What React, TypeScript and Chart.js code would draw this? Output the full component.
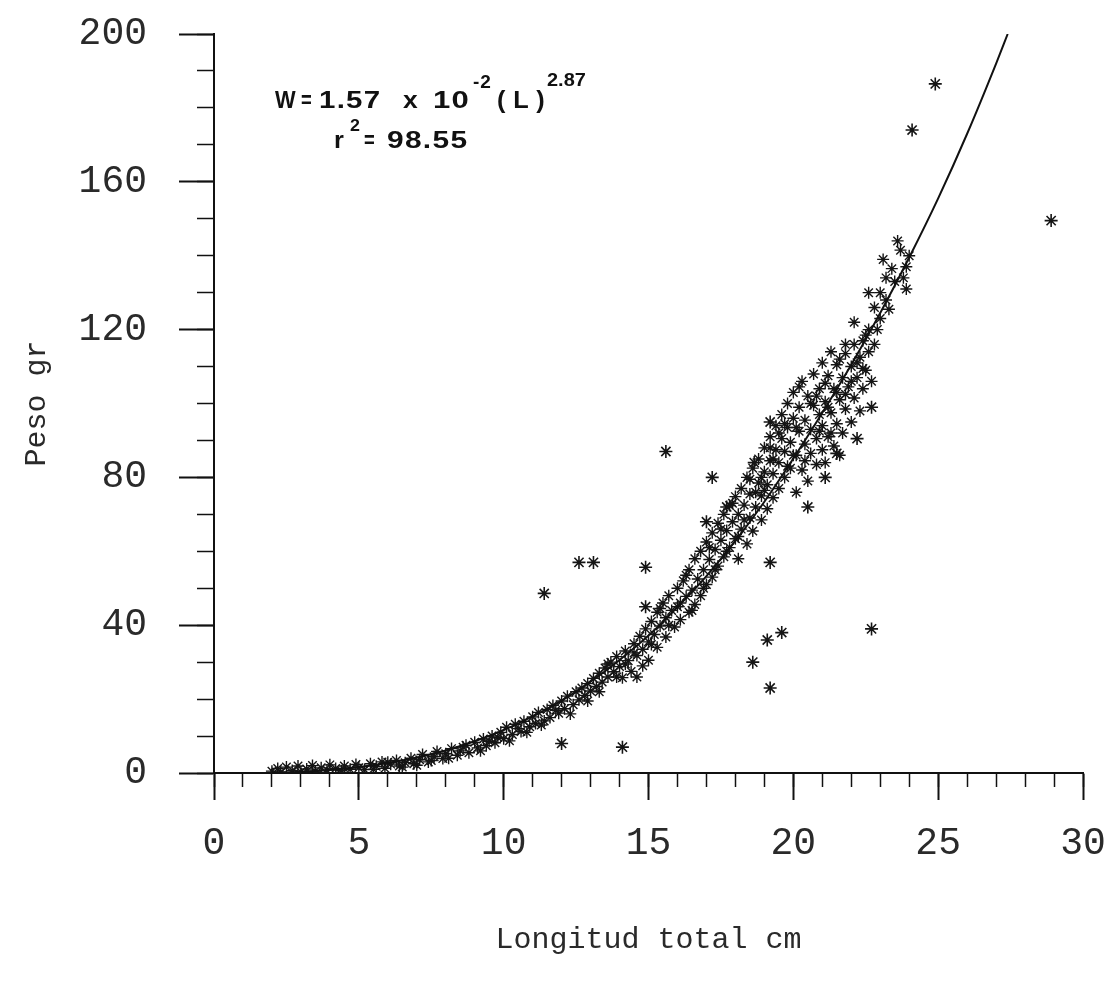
import React, { useEffect, useRef } from 'react';
import { Chart, registerables } from 'chart.js';

Chart.register(...registerables);

// ---- tick labels ----
const xMajorTicks = [0, 5, 10, 15, 20, 25, 30];
const yMajorTicks = [0, 40, 80, 120, 160, 200];

// ---- fitted curve (W = 1.57e-2 L^2.87) ----
const curveLength = [2, 3, 4, 5, 6, 7, 8, 9, 10, 11, 12, 13, 14, 15, 16, 17, 18, 19, 20, 21, 22, 23, 24, 25, 26, 27, 27.4];
const curveWeight = [0.12, 0.37, 0.84, 1.6, 2.7, 4.2, 6.1, 8.6, 11.6, 15.3, 19.6, 24.7, 30.6, 37.2, 44.9, 53.3, 62.8, 73.4, 85.1, 97.5, 110.5, 124.5, 139.5, 155.5, 173, 192, 200];

// ---- main band of observations (length cm, weight g) ----
const bandLength = [
  2.0, 2.2, 2.3, 2.5, 2.7, 2.9, 3.0, 3.2, 3.4, 3.5, 3.7, 3.9, 4.0, 4.2, 4.4, 4.5, 4.7, 4.9, 5.0, 5.2, 5.4,
  5.6, 5.8, 5.9, 6.1, 6.3, 6.4, 6.6, 6.8, 6.9, 7.1, 7.2, 7.4, 7.6, 7.7, 7.9, 8.0, 8.2, 8.4,
  8.5, 8.7, 8.8, 9.0, 9.1, 9.3, 9.4, 9.6, 9.7, 9.9, 10.0, 10.1, 10.3, 10.4, 10.6, 10.7,
  10.9, 11.0, 11.1, 11.2, 11.4, 11.5, 11.6, 11.7, 11.9, 12.0, 12.1, 12.2, 12.4, 12.5, 12.6, 12.7,
  12.8, 12.9, 13.0, 13.1, 13.2, 13.3, 13.4, 13.5, 13.6, 13.7, 13.8, 13.9, 14.0, 14.1, 14.2, 14.3, 14.4,
  14.5, 14.6, 14.6, 14.7, 14.8, 14.9, 15.0, 15.0, 15.1, 15.2, 15.3, 15.3, 15.4, 15.5, 15.6, 15.6, 15.7, 15.8, 15.9, 16.0, 16.1, 16.1,
  16.2, 16.3, 16.4, 16.4, 16.5, 16.6, 16.6, 16.7, 16.8, 16.8, 16.9, 17.0, 17.0, 17.1, 17.2, 17.2, 17.3, 17.4, 17.4, 17.5, 17.6, 17.6, 17.7, 17.8, 17.8, 17.9, 18.0, 18.0,
  18.1, 18.1, 18.2, 18.2, 18.3, 18.4, 18.4, 18.5, 18.5, 18.6, 18.6, 18.7, 18.8, 18.8, 18.9, 18.9, 19.0, 19.0, 19.1, 19.1, 19.2, 19.2, 19.3, 19.3, 19.4, 19.4, 19.5, 19.5, 19.6, 19.6, 19.7, 19.7, 19.8, 19.8, 19.9, 19.9, 20.0, 20.0,
  20.1, 20.1, 20.2, 20.2, 20.3, 20.3, 20.4, 20.4, 20.5, 20.5, 20.6, 20.6, 20.7, 20.7, 20.8, 20.8, 20.9, 20.9, 21.0, 21.0, 21.0, 21.1, 21.1, 21.2, 21.2, 21.3, 21.3, 21.4, 21.4, 21.5, 21.5, 21.6, 21.6, 21.7, 21.7, 21.8, 21.8, 21.9, 22.0, 22.0, 22.1, 22.1, 22.2, 22.3, 22.3, 22.4, 22.5, 22.5, 22.6, 22.7,
  21.8, 22.1, 22.4, 22.6, 22.8, 23.0, 23.1, 23.4, 23.6, 23.9, 23.9, 23.2, 23.5, 24.0, 23.7, 22.9, 23.3, 23.8,
];
const bandWeight = [
  0.5, 1.2, 0.2, 1.6, 0.7, 1.9, 0.3, 1.1, 2.0, 0.5, 1.4, 0.8, 2.2, 1.2, 0.6, 1.9, 1.0, 2.3, 1.4, 0.9, 2.5,
  1.8, 3.0, 1.3, 2.4, 3.4, 1.9, 2.8, 4.0, 2.5, 3.6, 5.0, 3.0, 4.4, 5.8, 3.9, 5.2, 6.6, 4.8,
  6.0, 7.5, 5.5, 8.3, 6.8, 9.2, 7.4, 10.0, 8.2, 11.0, 9.3, 12.4, 10.4, 13.2, 11.2, 14.0,
  12.5, 15.2, 13.4, 16.4, 14.1, 17.2, 15.0, 18.3, 16.2, 19.5, 17.4, 20.8, 18.5, 22.0, 19.8, 23.0,
  21.0, 24.2, 22.2, 25.6, 23.4, 27.0, 24.6, 28.4, 26.0, 30.0, 27.4, 31.5, 28.8, 25.8, 33.0, 30.4, 27.5,
  35.0, 31.8, 26.0, 37.0, 33.5, 39.0, 35.5, 30.5, 41.0, 37.5, 43.5, 34.0, 39.8, 46.0, 42.0, 36.8, 48.0, 44.0, 39.5, 50.0, 46.0, 41.5,
  52.0, 47.8, 43.5, 55.0, 49.5, 58.0, 45.6, 52.5, 60.0, 48.0, 55.0, 62.5, 51.0, 57.8, 65.0, 53.0, 60.5, 67.6, 56.0, 63.0, 70.0, 58.5, 65.6, 72.4, 61.0, 68.0, 74.8, 63.4,
  70.0, 58.0, 77.0, 66.0, 72.5, 80.0, 62.0, 69.0, 75.5, 82.5, 65.5, 72.0, 78.5, 85.0, 68.5, 75.0, 81.5, 88.0, 71.5, 78.0, 84.5, 91.0, 74.5, 81.0, 87.5, 94.0, 77.0, 84.0, 90.5, 97.0, 80.0, 87.0, 93.5, 100.0, 82.5, 89.5, 96.0, 103.0,
  76.0, 86.0, 92.5, 99.0, 106.0, 82.0, 89.0, 95.5, 102.0, 79.0, 86.5, 93.0, 99.5, 108.0, 83.5, 90.5, 97.0, 104.0, 87.5, 94.0, 111.0, 100.5, 84.0, 91.0, 107.5, 97.5, 114.0, 88.5, 104.0, 94.5, 110.5, 101.0, 86.0, 107.0, 92.0, 113.5, 98.5, 104.5, 95.0, 110.0, 101.5, 116.0, 107.0, 98.0, 112.5, 104.0, 118.5, 109.0, 114.0, 106.0,
  116, 122, 117, 130, 126, 123, 139, 136.5, 144, 137, 131, 128, 133, 140, 141.5, 120, 125.5, 134,
];

// ---- further observations filling the band ----
const fillLength = [
  5.5, 6.0, 6.5, 7.0, 7.5, 8.1, 8.6, 9.2, 9.5, 9.8, 10.2, 10.5, 10.8, 11.3, 11.8, 12.3, 12.9, 13.3, 13.6, 13.9,
  14.2, 14.5, 14.8, 15.1, 15.4, 15.7, 16.0, 16.3, 16.5, 16.9, 17.1, 17.3, 17.5, 17.7, 17.9, 18.1, 18.3, 18.5, 18.7, 18.9,
  19.0, 19.2, 19.3, 19.5, 19.7, 19.8, 20.0, 20.1, 20.2, 20.4, 20.6, 20.8, 20.9, 21.1, 21.2, 21.3, 21.5, 21.6, 21.8, 22.0,
  22.2, 22.4, 22.6, 22.8, 23.0, 23.2,
];
const fillWeight = [
  1.0, 2.9, 1.6, 2.1, 3.4, 4.0, 7.0, 6.0, 8.6, 9.6, 8.7, 12.0, 11.0, 13.0, 17.0, 16.0, 19.5, 22.0, 29.5, 26.0,
  29.5, 32.5, 29.0, 34.8, 44.5, 40.0, 45.0, 53.5, 44.0, 50.0, 61.0, 55.0, 66.0, 60.0, 73.0, 64.0, 68.5, 79.5, 76.0, 80.0,
  76.5, 88.0, 85.0, 92.0, 94.5, 83.0, 86.0, 93.5, 104.5, 84.5, 100.0, 102.0, 92.5, 105.5, 99.0, 92.0, 103.0, 112.0, 102.5, 106.0,
  111.0, 109.5, 120.0, 116.0, 130.0, 134.0,
];

// ---- scattered observations away from the band ----
const outlierLength = [11.4, 12.6, 13.1, 12.0, 14.1, 14.9, 14.9, 15.6, 17.2, 19.1, 19.6, 18.6, 19.2, 22.7, 19.2, 20.5, 21.1, 21.5, 22.2, 22.7, 24.9, 24.1, 28.9, 17.0, 17.7, 18.65, 19.2];
const outlierWeight = [48.6, 57, 57, 8.0, 7.0, 55.7, 45, 87, 80, 36, 38, 30, 23, 39, 57, 72, 80, 86.5, 90.5, 99, 186.5, 174, 149.5, 68, 72, 84, 95];

const monoFont = '"Liberation Mono", "DejaVu Sans Mono", monospace';

const equationPlugin = {
  id: 'equationText',
  afterDraw(chart: any) {
    const { ctx, chartArea } = chart;
    const L = chartArea.left;
    const T = chartArea.top;
    ctx.save();
    ctx.fillStyle = '#111';
    ctx.textBaseline = 'alphabetic';
    ctx.textAlign = 'left';
    const put = (txt: string, x: number, y: number, size: number, sx: number, spacing: number) => {
      ctx.save();
      ctx.font = `bold ${size}px "Liberation Sans", Arial, sans-serif`;
      (ctx as any).letterSpacing = `${spacing}px`;
      ctx.translate(L + x, T + y);
      ctx.scale(sx, 1);
      ctx.fillText(txt, 0, 0);
      ctx.restore();
    };
    // line 1 : W = 1.57 x 10^-2 (L)^2.87
    put('W', 61, 74, 23, 0.95, 0);
    put('=', 87, 74, 23, 0.8, 0);
    put('1.57', 105, 74, 23, 1.28, 1);
    put('x', 189, 74, 23, 1.15, 0);
    put('10', 219, 74, 23, 1.35, 1);
    put('-2', 259, 54, 19, 1.0, 1);
    put('(L)', 283, 74, 23, 1.1, 7);
    put('2.87', 333, 52, 19, 1.05, 0);
    // line 2 : r^2 = 98.55
    put('r', 120, 114, 23, 1.1, 0);
    put('2', 136, 97, 17, 1.05, 0);
    put('=', 150, 114, 23, 0.8, 0);
    put('98.55', 173, 114, 23, 1.3, 1);
    ctx.restore();
  },
};

const noOverflowPadding = (s: any) => {
  s.paddingTop = 0;
  s.paddingBottom = 0;
  s.paddingLeft = 0;
  s.paddingRight = 0;
};

export default function App() {
  const ref = useRef<HTMLCanvasElement | null>(null);

  useEffect(() => {
    if (!ref.current) return;
    const bandPoints = bandLength.map((x, i) => ({ x, y: bandWeight[i] }));
    const fillPoints = fillLength.map((x, i) => ({ x, y: fillWeight[i] }));
    const outlierPoints = outlierLength.map((x, i) => ({ x, y: outlierWeight[i] }));
    const curvePoints = curveLength.map((x, i) => ({ x, y: curveWeight[i] }));

    const tickFont = { family: monoFont, size: 38 };
    const titleFont = { family: monoFont, size: 30 };

    const starSet = (label: string, data: any[], r: number, w: number) => ({
      label,
      data,
      pointStyle: 'star',
      pointRadius: r,
      borderColor: '#151515',
      backgroundColor: 'rgba(0,0,0,0)',
      borderWidth: w,
      order: 1,
    });

    const chart = new Chart(ref.current, {
      type: 'scatter',
      data: {
        datasets: [
          {
            type: 'line',
            label: 'ajuste',
            data: curvePoints,
            borderColor: '#111',
            borderWidth: 2,
            pointRadius: 0,
            cubicInterpolationMode: 'monotone',
            fill: false,
            order: 0,
          } as any,
          starSet('observaciones', bandPoints, 6, 1.4),
          starSet('observaciones 2', fillPoints, 6, 1.4),
          starSet('atipicos', outlierPoints, 6.5, 1.6),
        ],
      },
      options: {
        animation: false,
        responsive: true,
        maintainAspectRatio: false,
        layout: { padding: { top: 34, right: 27, left: 0, bottom: 0 } },
        plugins: {
          legend: { display: false },
          tooltip: { enabled: false },
        },
        scales: {
          x: {
            type: 'linear',
            position: 'bottom',
            weight: 1,
            min: 0,
            max: 30,
            afterBuildTicks: (s: any) => {
              s.ticks = xMajorTicks.map((v) => ({ value: v }));
            },
            afterFit: (s: any) => {
              s.height = 223;
              noOverflowPadding(s);
            },
            ticks: { font: tickFont, color: '#2a2a2a', padding: 21, maxRotation: 0, autoSkip: false },
            grid: { drawOnChartArea: false, tickLength: 27, tickWidth: 2, tickColor: '#111' },
            border: { color: '#111', width: 2 },
            title: {
              display: true,
              text: 'Longitud total cm',
              font: titleFont,
              color: '#2a2a2a',
              padding: { top: 0, bottom: 38 },
            },
          },
          xMinor: {
            type: 'linear',
            position: 'bottom',
            weight: 0,
            min: 0,
            max: 30,
            afterFit: (s: any) => {
              s.height = 0;
              noOverflowPadding(s);
            },
            ticks: { display: false, stepSize: 1, autoSkip: false },
            grid: { drawOnChartArea: false, tickLength: 14, tickWidth: 1.5, tickColor: '#111' },
            border: { display: false },
          },
          y: {
            type: 'linear',
            position: 'left',
            weight: 1,
            min: 0,
            max: 200,
            afterBuildTicks: (s: any) => {
              s.ticks = yMajorTicks.map((v) => ({ value: v }));
            },
            afterFit: (s: any) => {
              s.width = 214;
              noOverflowPadding(s);
            },
            ticks: { font: tickFont, color: '#2a2a2a', padding: 32, autoSkip: false },
            grid: { drawOnChartArea: false, tickLength: 35, tickWidth: 2, tickColor: '#111' },
            border: { color: '#111', width: 2 },
            title: {
              display: true,
              text: 'Peso gr',
              font: titleFont,
              color: '#2a2a2a',
              padding: { top: 19, bottom: 0 },
            },
          },
          yMinor: {
            type: 'linear',
            position: 'left',
            weight: 0,
            min: 0,
            max: 200,
            afterFit: (s: any) => {
              s.width = 0;
              noOverflowPadding(s);
            },
            ticks: { display: false, stepSize: 10, autoSkip: false },
            grid: { drawOnChartArea: false, tickLength: 17, tickWidth: 1.5, tickColor: '#111' },
            border: { display: false },
          },
        },
      } as any,
      plugins: [equationPlugin],
    });

    return () => {
      chart.destroy();
    };
  }, []);

  return (
    <div style={{ position: 'absolute', left: 0, top: 0, width: 1110, height: 996, background: '#fff' }}>
      <canvas ref={ref} />
    </div>
  );
}
